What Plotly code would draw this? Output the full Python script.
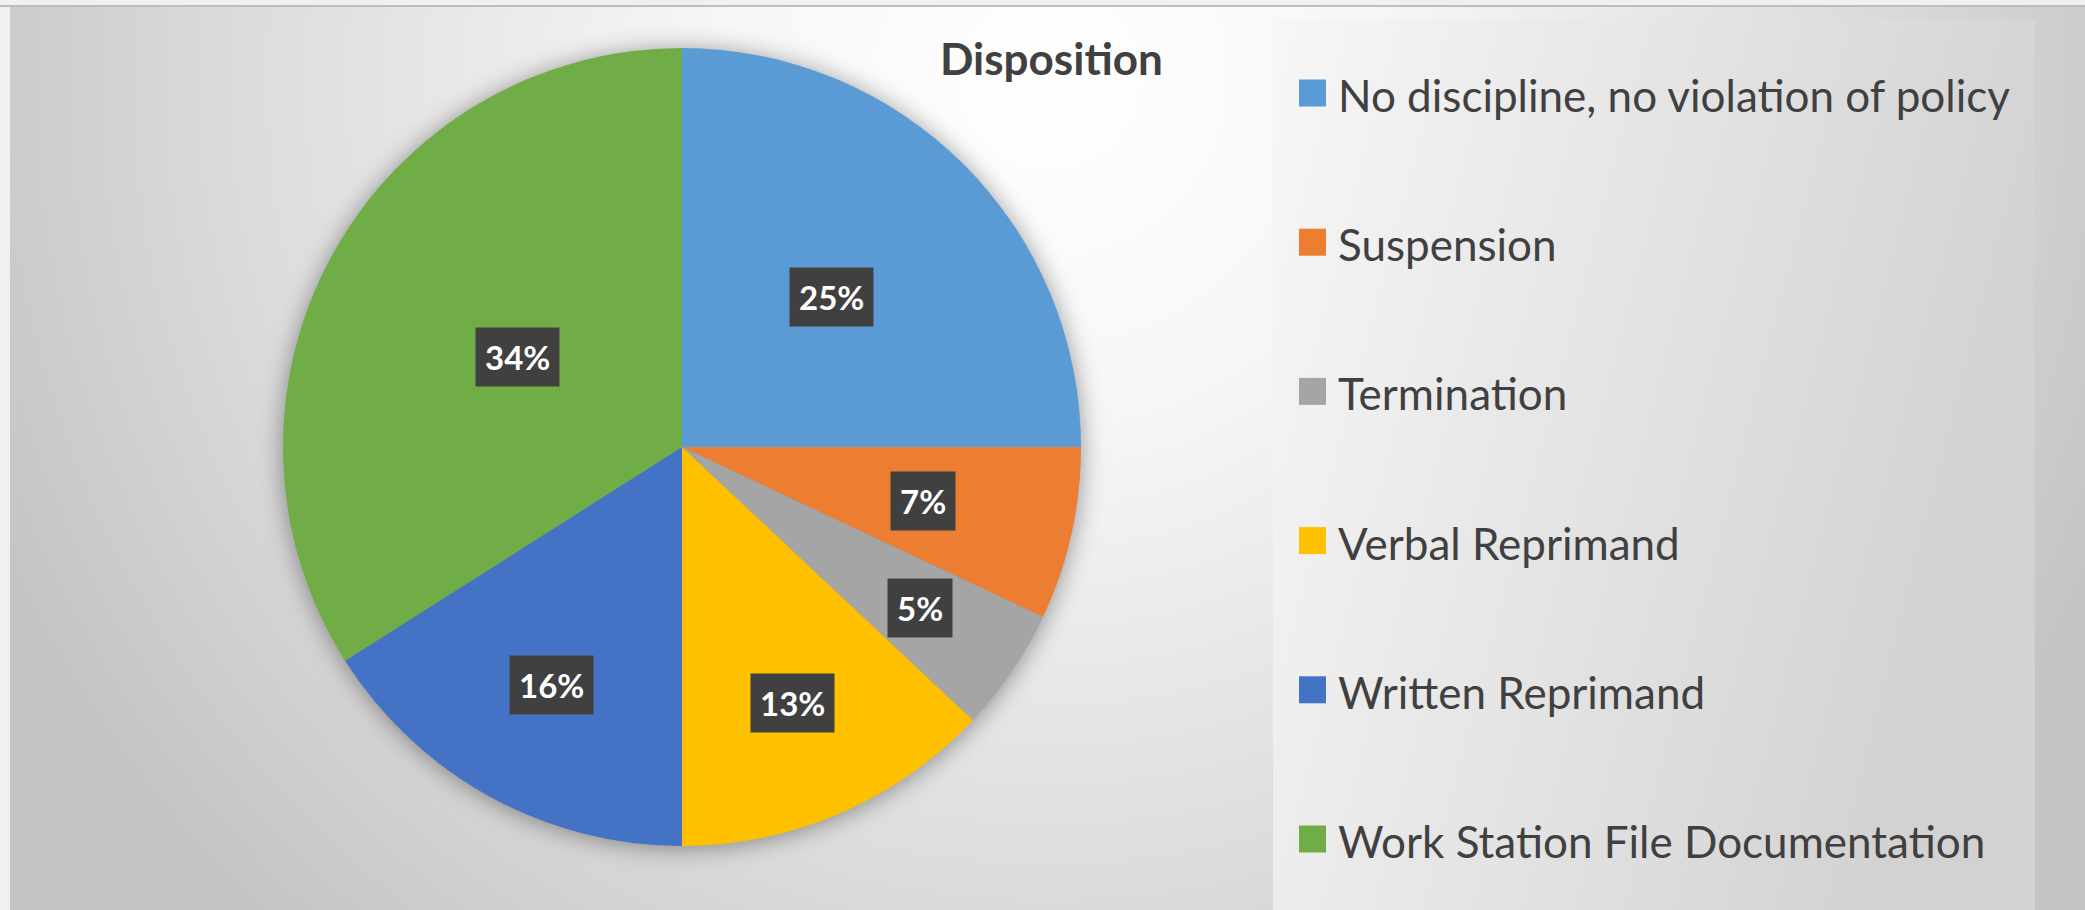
import base64
import math
import plotly.graph_objects as go

# ---------------- data ----------------
categories = [
    "No discipline, no violation of policy",
    "Suspension",
    "Termination",
    "Verbal Reprimand",
    "Written Reprimand",
    "Work Station File Documentation",
]
percent_values = [25, 7, 5, 13, 16, 34]
chart_title = "Disposition"

# ---------------- style ----------------
colors = ["#5B9BD5", "#ED7D31", "#A5A5A5", "#FFC000", "#4472C4", "#70AD47"]
label_radius_frac = [0.53, 0.62, 0.72, 0.70, 0.68, 0.47]

W, H = 2085, 910
CX, CY, R = 682, 447, 399          # pie centre / radius in pixels
TEXT_COLOR = "#404040"
FONT = "Lato"

# background (gradient chart area, legend panel, pie shadow) as an SVG image
svg = f'''<svg xmlns="http://www.w3.org/2000/svg" width="{W}" height="{H}" viewBox="0 0 {W} {H}">
<defs>
<radialGradient id="bg" gradientUnits="userSpaceOnUse" cx="1050" cy="80" r="1150">
<stop offset="0" stop-color="#ffffff"/>
<stop offset="0.3" stop-color="#f6f6f6"/>
<stop offset="0.7" stop-color="#dcdcdc"/>
<stop offset="1" stop-color="#c4c4c4"/>
</radialGradient>
<linearGradient id="lg" x1="0" y1="0" x2="1" y2="0.3">
<stop offset="0" stop-color="#f7f7f7"/>
<stop offset="1" stop-color="#d2d2d2"/>
</linearGradient>
<filter id="blur" x="-20%" y="-20%" width="140%" height="140%"><feGaussianBlur stdDeviation="12"/></filter>
</defs>
<rect width="{W}" height="{H}" fill="#f0f0f0"/>
<rect x="10" y="7" width="{W-10}" height="{H-7}" fill="url(#bg)"/>
<line x1="0" y1="6" x2="{W}" y2="6" stroke="#bdbdbd" stroke-width="2"/>
<rect x="1273" y="19" width="762" height="891" fill="url(#lg)"/>
<circle cx="{CX}" cy="{CY+2}" r="{R}" fill="#000" fill-opacity="0.4" filter="url(#blur)"/>
</svg>'''
bg_src = "data:image/svg+xml;base64," + base64.b64encode(svg.encode()).decode()

dom_x = [(CX - R) / W, (CX + R) / W]
dom_y = [(H - CY - R) / H, (H - CY + R) / H]

fig = go.Figure()
fig.add_trace(go.Pie(
    labels=categories,
    values=percent_values,
    sort=False,
    direction="clockwise",
    rotation=0,
    marker=dict(colors=colors, line=dict(width=0)),
    textinfo="none",
    hoverinfo="label+percent",
    showlegend=False,
    domain=dict(x=dom_x, y=dom_y),
))

annotations = []
# data labels, positioned at mid-angle of each slice
total = sum(percent_values)
cum = 0
for v, f in zip(percent_values, label_radius_frac):
    mid = (cum + v / 2) / total * 2 * math.pi
    cum += v
    px = CX + f * R * math.sin(mid)
    py = CY - f * R * math.cos(mid)
    annotations.append(dict(
        x=px / W, y=1 - py / H, xref="paper", yref="paper",
        text=f"<b>{round(v / total * 100)}%</b>", showarrow=False,
        xanchor="center", yanchor="middle",
        font=dict(family=FONT, size=33, color="white"),
        bgcolor="#404040", borderpad=9,
    ))

# legend (manual, to match the large Excel layout)
LEG_Y0, LEG_STEP = 93, 149.2
shapes = []
for i, (cat, col) in enumerate(zip(categories, colors)):
    yc = LEG_Y0 + i * LEG_STEP
    shapes.append(dict(
        type="rect", xref="paper", yref="paper",
        x0=1299 / W, x1=1326 / W,
        y0=1 - (yc + 13.5) / H, y1=1 - (yc - 13.5) / H,
        fillcolor=col, line=dict(width=0),
    ))
    annotations.append(dict(
        x=1336 / W, y=1 - (yc + 2) / H, xref="paper", yref="paper",
        text=cat, showarrow=False, xanchor="left", yanchor="middle",
        font=dict(family=FONT, size=44, color=TEXT_COLOR),
    ))

# title
annotations.append(dict(
    x=1051 / W, y=1 - 58 / H, xref="paper", yref="paper",
    text=f"<b>{chart_title}</b>", showarrow=False,
    xanchor="center", yanchor="middle",
    font=dict(family=FONT, size=44, color=TEXT_COLOR),
))

fig.update_layout(
    width=W, height=H,
    margin=dict(l=0, r=0, t=0, b=0),
    paper_bgcolor="white",
    images=[dict(source=bg_src, xref="paper", yref="paper", x=0, y=1,
                 sizex=1, sizey=1, xanchor="left", yanchor="top",
                 sizing="stretch", layer="below")],
    shapes=shapes,
    annotations=annotations,
    showlegend=False,
)

fig.write_html(
    "out.html",
    config=dict(displayModeBar=False),
    post_script="document.body.style.margin='0';document.body.style.overflow='hidden';",
)
